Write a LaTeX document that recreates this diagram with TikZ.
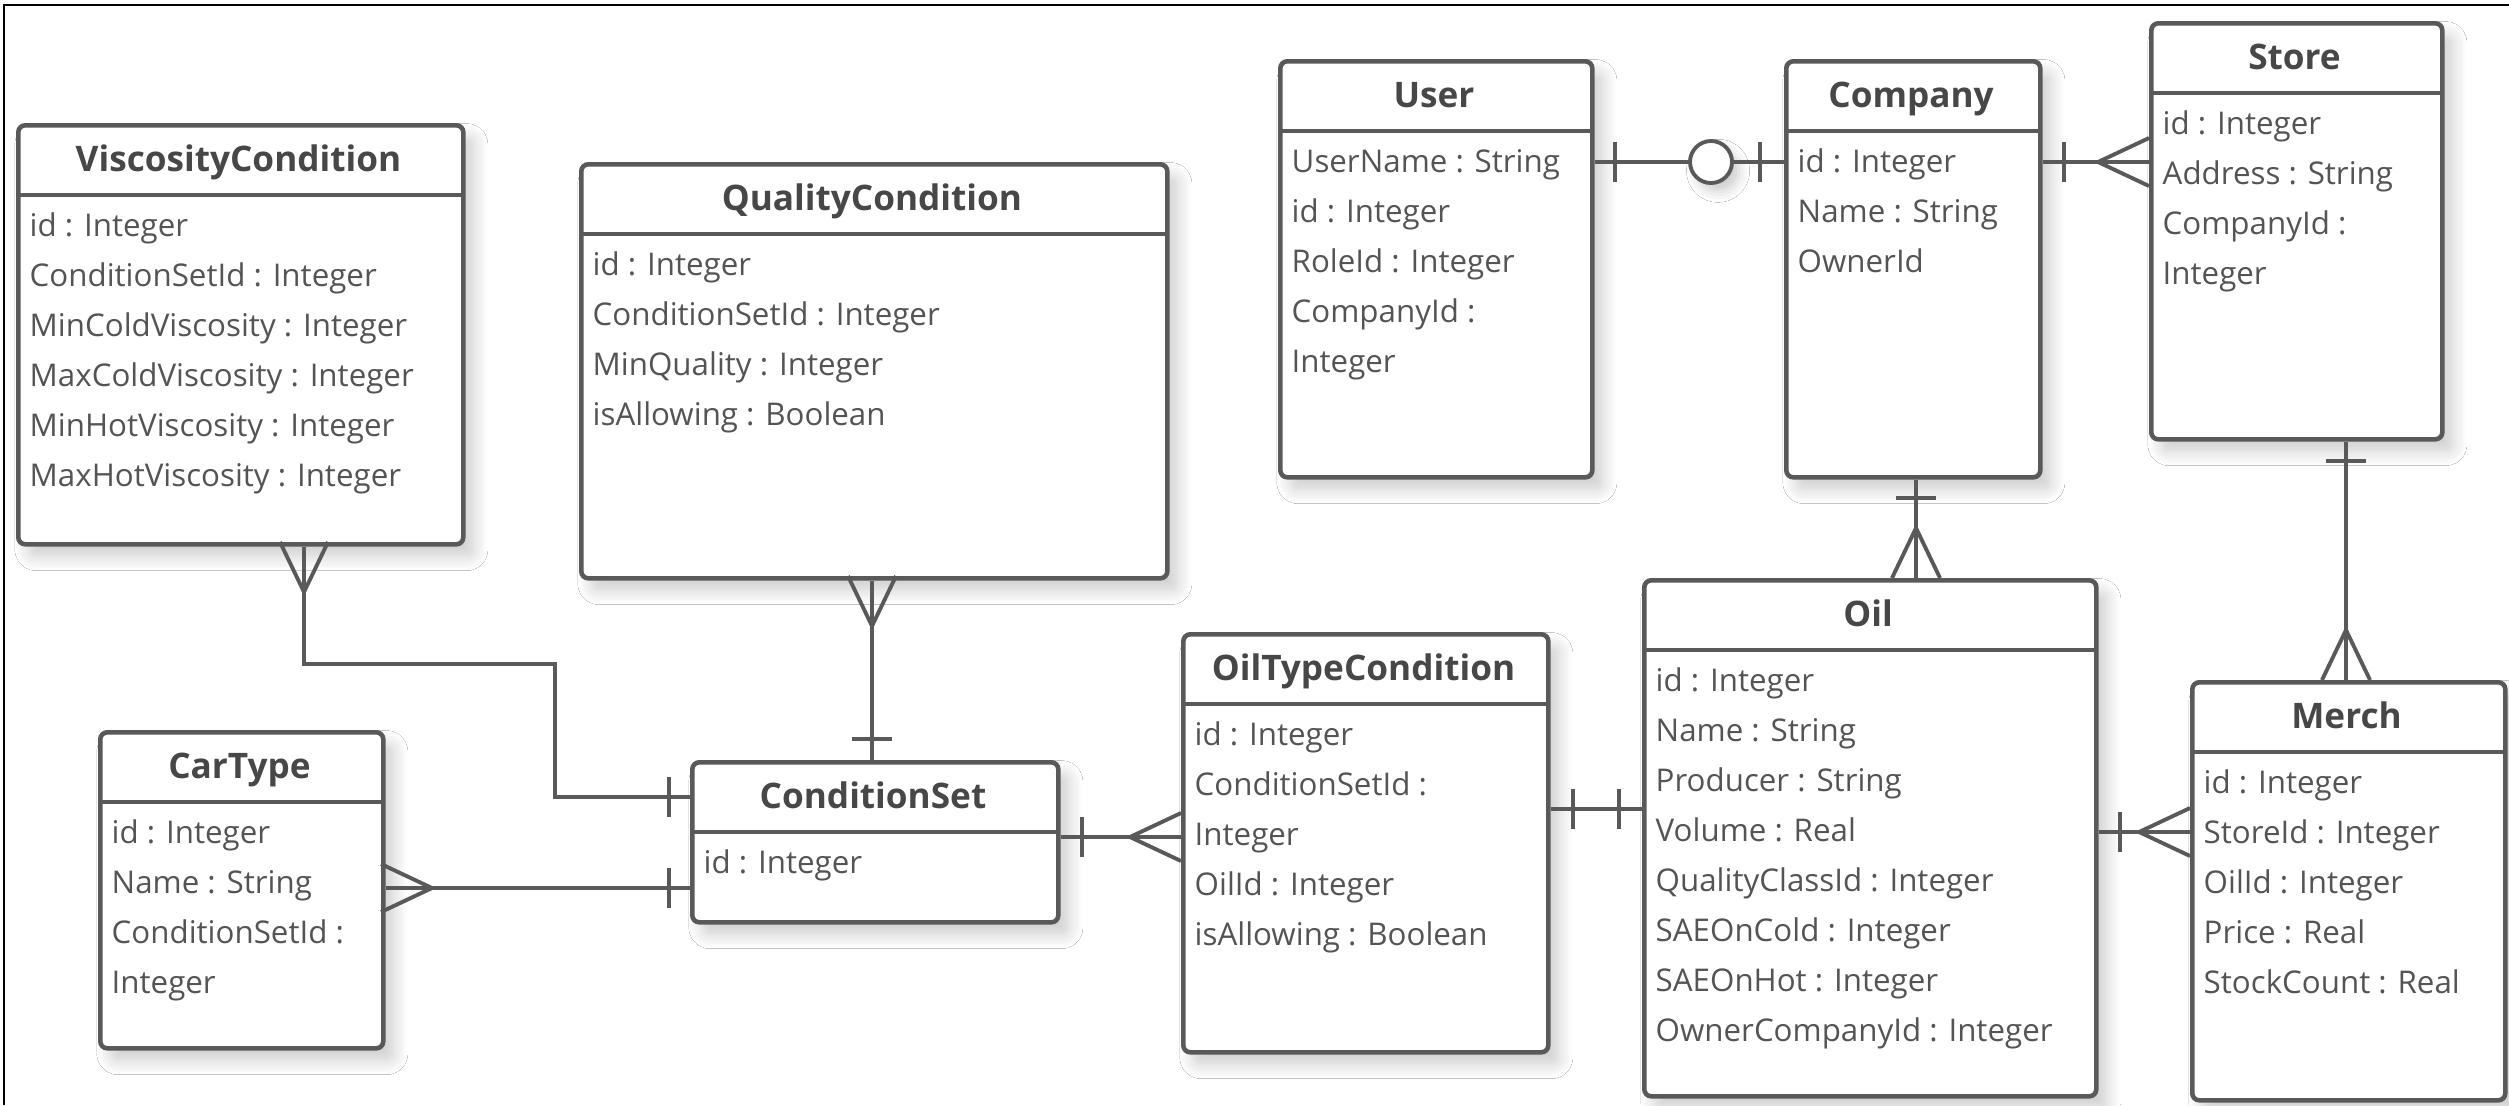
\documentclass[tikz,border=0pt]{standalone}
\usepackage{fontspec}
\setmainfont{Open Sans}
\usetikzlibrary{calc,shadows.blur}
\definecolor{ln}{HTML}{595959}
\definecolor{tx}{HTML}{545454}
\definecolor{tt}{HTML}{474747}
\tikzset{
 ebox/.style={draw=ln, line width=1.3pt, fill=white, rounded corners=2pt, inner sep=0pt,
   blur shadow={shadow xshift=3pt, shadow yshift=-3.5pt, shadow blur radius=4pt, shadow blur steps=12, shadow opacity=20}},
 hline/.style={draw=ln, line width=1.3pt},
 etitle/.style={font=\bfseries\fontsize{10}{12}\selectfont, text=tt, inner sep=0pt, anchor=base},
 erow/.style={font=\fontsize{8.9}{11}\selectfont, text=tx, inner sep=0pt, anchor=base west},
 conn/.style={draw=ln, line width=1.1pt},
 optc/.style={circle, draw=ln, line width=1.1pt, fill=white, minimum size=0.42cm, inner sep=0pt,
   blur shadow={shadow xshift=2pt, shadow yshift=-2.5pt, shadow blur radius=3pt, shadow opacity=20}},
}
\newcommand\entity[8]{%
 \pgfmathsetmacro\ew{(#4-#2)*0.01}%
 \pgfmathsetmacro\eh{(#5-#3)*0.01}%
 \node[ebox, anchor=north west, minimum width=\ew cm, minimum height=\eh cm] (#1) at (#2,#3) {};
 \draw[hline] (#2,#6) -- (#4,#6);
 \node[etitle] (#1-t) at ({(#2+#4)/2},{(#3+#6)/2+12}) {#7};
 \foreach \r [count=\i from 0] in {#8} {\node[erow] (#1-r\i) at ({#2+13},{#6+41+50*\i}) {\r};}
}
\newcommand\barV[2]{\draw[conn] (#1-20,#2) -- (#1+20,#2);}
\newcommand\barH[2]{\draw[conn] (#1,#2-20) -- (#1,#2+20);}
\newcommand\crowH[3]{\draw[conn] (#1,#2-24) -- (#1+#3,#2) -- (#1,#2+24);}
\newcommand\crowV[3]{\draw[conn] (#1-24,#2) -- (#1,#2+#3) -- (#1+24,#2);}
\begin{document}
\begin{tikzpicture}[x=0.01cm,y=-0.01cm]
\fill[white] (0,0) rectangle (2509,1105);
\useasboundingbox (0,0) rectangle (2509,1105);
\draw[black, line width=0.7pt] (4,1105) -- (4,5) -- (2509,5);

\entity{vc}{16}{123}{461}{542}{195}{ViscosityCondition}{id : Integer,ConditionSetId : Integer,MinColdViscosity : Integer,MaxColdViscosity : Integer,MinHotViscosity : Integer,MaxHotViscosity : Integer}
\entity{qc}{579}{162}{1165}{576}{234}{QualityCondition}{id : Integer,ConditionSetId : Integer,MinQuality : Integer,isAllowing : Boolean}
\entity{user}{1278}{59}{1590}{475}{131}{User}{UserName : String,id : Integer,RoleId : Integer,CompanyId :,Integer}
\entity{comp}{1784}{59}{2038}{475}{131}{Company}{id : Integer,Name : String,OwnerId}
\entity{store}{2149}{21}{2440}{437}{93}{Store}{id : Integer,Address : String,CompanyId :,Integer}
\entity{oil}{1642}{578}{2094}{1094}{650}{Oil}{id : Integer,Name : String,Producer : String,Volume : Real,QualityClassId : Integer,SAEOnCold : Integer,SAEOnHot : Integer,OwnerCompanyId : Integer}
\entity{merch}{2190}{680}{2503}{1098}{752}{Merch}{id : Integer,StoreId : Integer,OilId : Integer,Price : Real,StockCount : Real}
\entity{otc}{1181}{632}{1546}{1050}{704}{OilTypeCondition}{id : Integer,ConditionSetId :,Integer,OilId : Integer,isAllowing : Boolean}
\entity{cs}{690}{760}{1056}{920}{832}{ConditionSet}{id : Integer}
\entity{ct}{98}{730}{381}{1046}{802}{CarType}{id : Integer,Name : String,ConditionSetId :,Integer}

% ViscosityCondition -> ConditionSet
\draw[conn] (vc.south -| 304,0) -- (304,664) -- (555,664) -- (555,797) -- (cs.west |- 0,797);
\crowV{304}{542}{50}
\barH{669}{797}
% QualityCondition -> ConditionSet
\draw[conn] (qc.south -| 872,0) -- (cs.north -| 872,0);
\crowV{872}{576}{50}
\barV{872}{739}
% CarType -> ConditionSet
\draw[conn] (ct.east |- 0,888) -- (cs.west |- 0,888);
\crowH{381}{888}{51}
\barH{669}{888}
% ConditionSet -> OilTypeCondition
\draw[conn] (cs.east |- 0,837) -- (otc.west |- 0,837);
\barH{1082}{837}
\crowH{1181}{837}{-51}
% OilTypeCondition -> Oil
\draw[conn] (otc.east |- 0,809) -- (oil.west |- 0,809);
\barH{1573}{809}
\barH{1619}{809}
% Oil -> Merch
\draw[conn] (oil.east |- 0,832) -- (merch.west |- 0,832);
\barH{2120}{832}
\crowH{2190}{832}{-51}
% Company -> Oil
\draw[conn] (comp.south -| 1916,0) -- (oil.north -| 1916,0);
\barV{1916}{498}
\crowV{1916}{578}{-50}
% Store -> Merch
\draw[conn] (store.south -| 2346,0) -- (merch.north -| 2346,0);
\barV{2346}{461}
\crowV{2346}{680}{-50}
% Company -> Store
\draw[conn] (comp.east |- 0,162) -- (store.west |- 0,162);
\barH{2064}{162}
\crowH{2149}{162}{-51}
% User -> Company
\node[optc] (opt) at (1711,162) {};
\draw[conn] (user.east |- 0,162) -- (opt.west);
\draw[conn] (opt.east) -- (comp.west |- 0,162);
\barH{1615}{162}
\barH{1760}{162}
\end{tikzpicture}
\end{document}
